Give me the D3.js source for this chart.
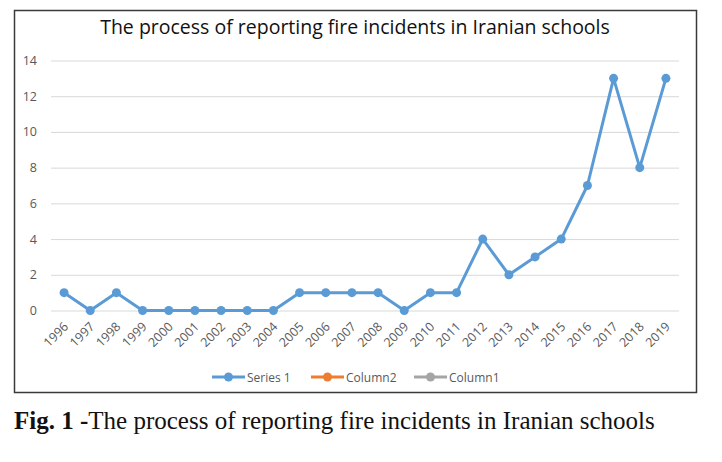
<!DOCTYPE html>
<html>
<head>
<meta charset="utf-8">
<script src="https://cdn.jsdelivr.net/npm/d3@7"></script>
<style>
  body { margin: 0; background: #fff; }
  svg { display: block; }
</style>
</head>
<body>
<svg id="vis" width="722" height="462"></svg>
<script>
// chart values
var years = ["1996","1997","1998","1999","2000","2001","2002","2003","2004","2005","2006","2007",
             "2008","2009","2010","2011","2012","2013","2014","2015","2016","2017","2018","2019"];
var series1 = [1,0,1,0,0,0,0,0,0,1,1,1,1,0,1,1,4,2,3,4,7,13,8,13];
var yTicks = [0,2,4,6,8,10,12,14];
var legendNames = ["Series 1","Column2","Column1"];
var legendColors = ["#5B9BD5","#ED7D31","#A5A5A5"];

var svg = d3.select("#vis");
var font = "'Open Sans', 'Noto Sans', sans-serif";

// outer chart frame
svg.append("rect")
    .attr("x", 14.5).attr("y", 10.5)
    .attr("width", 682).attr("height", 382)
    .attr("fill", "#fff")
    .attr("stroke", "#3a3a3a")
    .attr("stroke-width", 1.5);

svg.append("text")
    .attr("x", 355).attr("y", 34)
    .attr("text-anchor", "middle")
    .attr("font-family", font)
    .attr("font-size", 19.5)
    .attr("fill", "#111")
    .text("The process of reporting fire incidents in Iranian schools");

var x = d3.scaleBand().domain(years).range([51, 679]);
var y = d3.scaleLinear().domain([0, 14]).range([310.5, 60.5]);

// gridlines + y labels
var yAxis = svg.append("g")
    .attr("transform", "translate(51,0)")
    .call(d3.axisLeft(y).tickValues(yTicks).tickSize(-(679 - 51)).tickPadding(14));
yAxis.select(".domain").remove();
yAxis.selectAll(".tick line").attr("stroke", "#d9d9d9").attr("stroke-width", 1);
yAxis.selectAll(".tick text")
    .attr("font-family", font)
    .attr("font-size", 12.5)
    .attr("fill", "#595959");

// x labels, rotated
var xAxis = svg.append("g")
    .attr("transform", "translate(0,310.5)")
    .call(d3.axisBottom(x).tickSize(0).tickPadding(0));
xAxis.select(".domain").remove();
xAxis.selectAll(".tick text")
    .attr("font-family", font)
    .attr("font-size", 12.5)
    .attr("fill", "#595959")
    .attr("text-anchor", "end")
    .attr("dy", 0)
    .attr("transform", "translate(5,17) rotate(-45)");

var line = d3.line()
    .x(function(d, i) { return x(years[i]) + x.bandwidth() / 2; })
    .y(function(d) { return y(d); });

svg.append("path")
    .datum(series1)
    .attr("d", line)
    .attr("fill", "none")
    .attr("stroke", legendColors[0])
    .attr("stroke-width", 3)
    .attr("stroke-linejoin", "round");

svg.selectAll("circle.pt")
    .data(series1)
    .enter()
    .append("circle")
    .attr("class", "pt")
    .attr("cx", function(d, i) { return x(years[i]) + x.bandwidth() / 2; })
    .attr("cy", function(d) { return y(d); })
    .attr("r", 4.5)
    .attr("fill", legendColors[0]);

// legend
var legendX = [212, 311, 414];
var lg = svg.selectAll("g.legend")
    .data(legendNames)
    .enter()
    .append("g")
    .attr("class", "legend")
    .attr("transform", function(d, i) { return "translate(" + legendX[i] + ",377)"; });

lg.append("line")
    .attr("x1", 0).attr("x2", 33)
    .attr("stroke", function(d, i) { return legendColors[i]; })
    .attr("stroke-width", 3);
lg.append("circle")
    .attr("cx", 16.5).attr("r", 4.5)
    .attr("fill", function(d, i) { return legendColors[i]; });
lg.append("text")
    .attr("x", 35).attr("y", 4.5)
    .attr("font-family", font)
    .attr("font-size", 12)
    .attr("fill", "#595959")
    .text(function(d) { return d; });

// figure caption
var cap = svg.append("text")
    .attr("x", 14).attr("y", 429)
    .attr("font-family", "'Liberation Serif', 'Times New Roman', serif")
    .attr("font-size", 25)
    .attr("fill", "#111");
cap.append("tspan").attr("font-weight", "bold").text("Fig. 1 -");
cap.append("tspan").text("The process of reporting fire incidents in Iranian schools");
</script>
</body>
</html>
